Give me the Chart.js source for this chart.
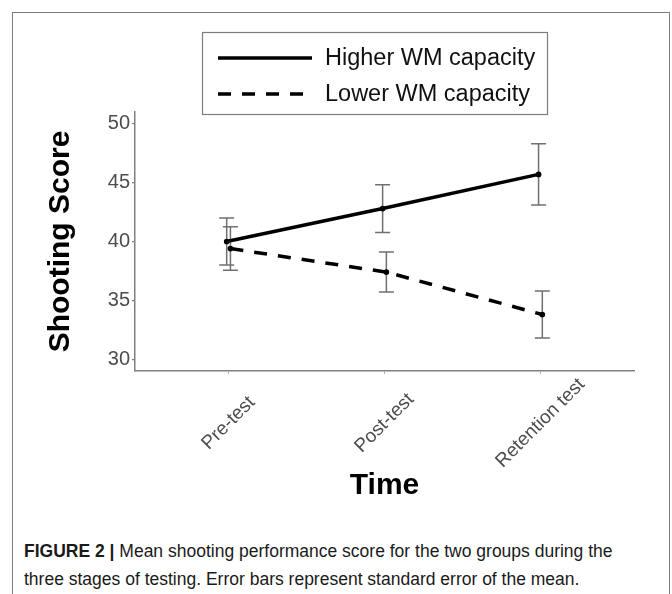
<!DOCTYPE html>
<html>
<head>
<meta charset="utf-8">
<script src="https://cdn.jsdelivr.net/npm/chart.js@4/dist/chart.umd.min.js"></script>
<style>
  body { margin: 0; background: #fff; font-family: "Liberation Sans", Arial, sans-serif; }
  #frame { position: absolute; left: 12px; top: 12px; width: 656px; height: 700px; border: 1.5px solid #7d7d7d; }
  #wrap { position: absolute; left: 0; top: 0; width: 672px; height: 510px; }
  #caption { position: absolute; left: 24px; top: 537px; font-size: 17.5px; line-height: 28px; color: #1a1a1a; white-space: nowrap; }
</style>
</head>
<body>
<div id="frame"></div>
<div id="wrap"><canvas id="scoreChart"></canvas></div>
<div id="caption"><b>FIGURE 2 |</b> Mean shooting performance score for the two groups during the<br>three stages of testing. Error bars represent standard error of the mean.</div>
<script>
// data
const timePoints = ['Pre-test', 'Post-test', 'Retention test'];
const higherMean = [40.0, 42.8, 45.7];
const higherSE = [2.0, 2.03, 2.6];
const lowerMean = [39.4, 37.4, 33.8];
const lowerSE = [1.85, 1.7, 2.0];
const yTicks = [30, 35, 40, 45, 50];

const DODGE = 0.012;
const GREY = '#4d4d4d';
const AXIS = '#808080';

function points(means, shift) {
    return means.map((v, i) => ({ x: i + 1 + shift, y: v }));
}

// error bars drawn with the chart's own scales
const errorBars = {
    id: 'errorBars',
    beforeDatasetsDraw(chart) {
        const { ctx, scales: { x, y } } = chart;
        const sets = [[higherMean, higherSE, -DODGE], [lowerMean, lowerSE, DODGE]];
        ctx.save();
        ctx.strokeStyle = '#707070';
        ctx.lineWidth = 1.5;
        sets.forEach(([m, se, shift]) => {
            m.forEach((v, i) => {
                const px = x.getPixelForValue(i + 1 + shift);
                const top = y.getPixelForValue(v + se[i]);
                const bot = y.getPixelForValue(v - se[i]);
                ctx.beginPath();
                ctx.moveTo(px, top); ctx.lineTo(px, bot);
                ctx.moveTo(px - 7.5, top); ctx.lineTo(px + 7.5, top);
                ctx.moveTo(px - 7.5, bot); ctx.lineTo(px + 7.5, bot);
                ctx.stroke();
            });
        });
        ctx.restore();
    }
};

// rotated category labels, centred on each tick
const xLabels = {
    id: 'xLabels',
    afterDraw(chart) {
        const { ctx, scales: { x }, chartArea } = chart;
        ctx.save();
        ctx.font = '19px "Liberation Sans", Arial, sans-serif';
        ctx.fillStyle = GREY;
        ctx.textAlign = 'center';
        ctx.textBaseline = 'middle';
        timePoints.forEach((t, i) => {
            ctx.save();
            ctx.translate(x.getPixelForValue(i + 1), chartArea.bottom + 52);
            ctx.rotate(-Math.PI / 4);
            ctx.fillText(t, 0, 0);
            ctx.restore();
        });
        ctx.restore();
    }
};

// boxed legend above the panel
const boxLegend = {
    id: 'boxLegend',
    afterDraw(chart) {
        const ctx = chart.ctx;
        ctx.save();
        ctx.strokeStyle = '#7d7d7d';
        ctx.lineWidth = 1.2;
        ctx.strokeRect(202.5, 32.5, 345, 82);
        ctx.font = '23.5px "Liberation Sans", Arial, sans-serif';
        ctx.textBaseline = 'middle';
        ctx.fillStyle = '#111';
        chart.data.datasets.forEach((ds, i) => {
            const ly = 58 + i * 36;
            ctx.beginPath();
            ctx.strokeStyle = '#000';
            ctx.lineWidth = 3.5;
            ctx.setLineDash(ds.borderDash || []);
            ctx.moveTo(218, ly);
            ctx.lineTo(312, ly);
            ctx.stroke();
            ctx.setLineDash([]);
            ctx.fillText(ds.label, 325, ly + 1);
        });
        ctx.restore();
    }
};

const ctx = document.getElementById('scoreChart').getContext('2d');
const scoreChart = new Chart(ctx, {
    type: 'line',
    data: {
        datasets: [
            {
                label: 'Higher WM capacity',
                data: points(higherMean, -DODGE),
                borderColor: '#000',
                backgroundColor: '#000',
                borderWidth: 3.5,
                pointRadius: 1.1,
                borderCapStyle: 'round'
            },
            {
                label: 'Lower WM capacity',
                data: points(lowerMean, DODGE),
                borderColor: '#000',
                backgroundColor: '#000',
                borderWidth: 3.5,
                borderDash: [13, 11],
                pointRadius: 1.1
            }
        ]
    },
    options: {
        responsive: true,
        maintainAspectRatio: false,
        animation: false,
        layout: { padding: { top: 112, right: 38, left: 0, bottom: 0 } },
        plugins: { legend: { display: false }, tooltip: { enabled: false } },
        scales: {
            x: {
                type: 'linear',
                min: 0.4,
                max: 3.6,
                afterBuildTicks: s => { s.ticks = timePoints.map((t, i) => ({ value: i + 1 })); },
                afterFit: s => { s.height = 139; },
                ticks: { display: false },
                grid: { drawOnChartArea: false, drawTicks: true, tickLength: 3, color: '#b0b0b0' },
                border: { display: true, color: AXIS, width: 1.5 },
                title: {
                    display: true,
                    text: 'Time',
                    color: '#000',
                    font: { family: '"Liberation Sans", Arial, sans-serif', size: 30, weight: 'bold' },
                    padding: { top: 0, bottom: 6 }
                }
            },
            y: {
                min: 29,
                max: 51,
                afterBuildTicks: s => { s.ticks = yTicks.map(v => ({ value: v })); },
                afterFit: s => { s.width = 135; },
                ticks: {
                    color: GREY,
                    padding: 2,
                    font: { family: '"Liberation Sans", Arial, sans-serif', size: 20 }
                },
                grid: { drawOnChartArea: false, drawTicks: true, tickLength: 3, color: AXIS, lineWidth: 1.2 },
                border: { display: true, color: AXIS, width: 1.5 },
                title: {
                    display: true,
                    text: 'Shooting Score',
                    color: '#000',
                    font: { family: '"Liberation Sans", Arial, sans-serif', size: 30, weight: 'bold' },
                    padding: { top: 43, bottom: 0 }
                }
            }
        }
    },
    plugins: [errorBars, xLabels, boxLegend]
});
</script>
</body>
</html>
